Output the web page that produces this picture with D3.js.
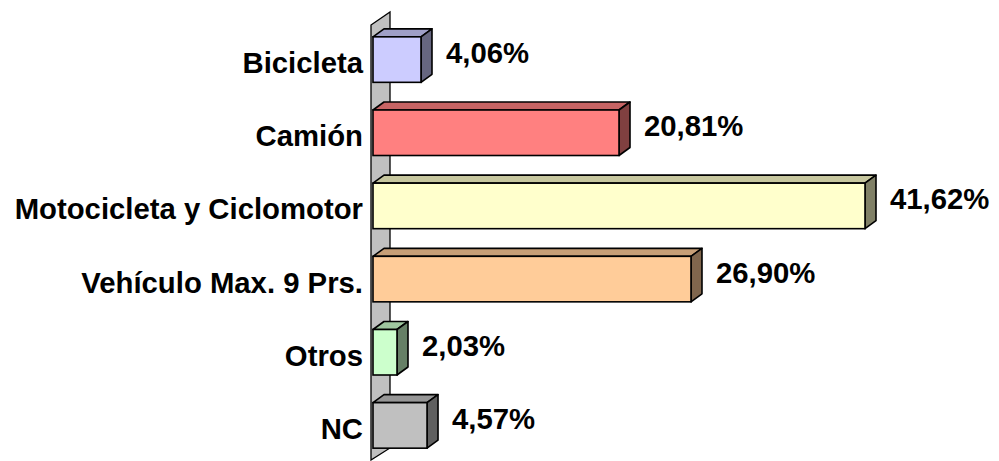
<!DOCTYPE html>
<html><head><meta charset="utf-8">
<script src="https://cdn.jsdelivr.net/npm/d3@7/dist/d3.min.js"></script>
<style>body{margin:0;background:#fff}svg{display:block}</style>
</head><body>
<script>
const categories = ["Bicicleta","Camión","Motocicleta y Ciclomotor","Vehículo Max. 9 Prs.","Otros","NC"];
const values = [4.06, 20.81, 41.62, 26.90, 2.03, 4.57];
const valueLabels = ["4,06%","20,81%","41,62%","26,90%","2,03%","4,57%"];
const colors = ["#ccccff","#ff8080","#ffffcc","#ffcc99","#ccffcc","#c0c0c0"];

const W = 999, H = 461;
const svg = d3.select("body").append("svg").attr("width", W).attr("height", H);
const font = "'Liberation Sans', Arial, sans-serif";

const x = d3.scaleLinear().domain([0, d3.max(values)]).range([373, 865]);
const y = d3.scaleBand().domain(categories).range([23, 462]).paddingInner(0.378).paddingOuter(0.189);
const dx = 11, dy = -8;

// wall
svg.append("polygon")
  .attr("points", [[371,25],[390,12],[390,448],[371,460]].map(p=>p.join(",")).join(" "))
  .attr("fill", "#c0c0c0").attr("stroke", "#000").attr("stroke-width", 1.3);

const g = svg.append("g");
categories.forEach((c, i) => {
  const x0 = x(0), x1 = x(values[i]);
  const y0 = y(c), y1 = y0 + y.bandwidth();
  const col = d3.color(colors[i]);
  const top = d3.rgb(col.r*0.78, col.g*0.78, col.b*0.78);
  const side = d3.rgb(col.r*0.5, col.g*0.5, col.b*0.5);
  const pts = a => a.map(p=>p.join(",")).join(" ");
  g.append("polygon").attr("points", pts([[x0,y0],[x0+dx,y0+dy],[x1+dx,y0+dy],[x1,y0]]))
    .attr("fill", top).attr("stroke","#000").attr("stroke-width",1.6).attr("stroke-linejoin","round");
  g.append("polygon").attr("points", pts([[x1,y0],[x1+dx,y0+dy],[x1+dx,y1+dy],[x1,y1]]))
    .attr("fill", side).attr("stroke","#000").attr("stroke-width",1.6).attr("stroke-linejoin","round");
  g.append("rect").attr("x", x0).attr("y", y0).attr("width", x1-x0).attr("height", y1-y0)
    .attr("fill", col).attr("stroke","#000").attr("stroke-width",1.6);

  svg.append("text").attr("x", 363).attr("y", y0 + y.bandwidth()/2 + 13.5)
    .attr("text-anchor","end").attr("font-family",font).attr("font-weight","bold")
    .attr("font-size", 29.3).attr("fill","#000").text(c);
  svg.append("text").attr("x", x1 + 25).attr("y", y0 + y.bandwidth()/2 + 3.5)
    .attr("font-family",font).attr("font-weight","bold")
    .attr("font-size", 29.3).attr("fill","#000").text(valueLabels[i]);
});
</script>
</body></html>
